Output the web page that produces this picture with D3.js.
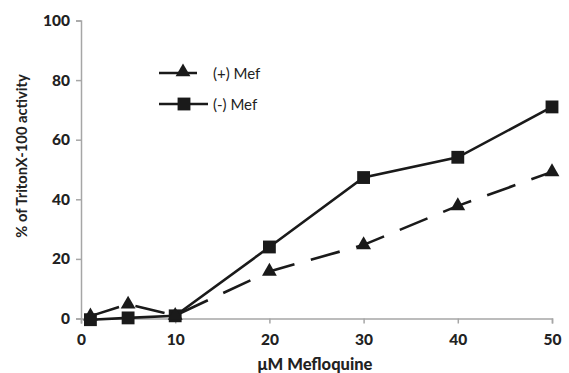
<!DOCTYPE html>
<html><head><meta charset="utf-8">
<script src="https://cdn.jsdelivr.net/npm/d3@7"></script>
<style>body{margin:0;background:#fff}svg{display:block}</style>
</head><body>
<svg id="c" width="569" height="373"></svg>
<script>
const xTicks = [0,10,20,30,40,50];
const yTicks = [0,20,40,60,80,100];
const plusX = [1,5,10,20,30,40,50];
const plusY = [0.8,4.8,1.0,15.8,24.7,37.8,49.2];
const minusX = [1,5,10,20,30,40,50];
const minusY = [-0.4,0.2,0.9,24.0,47.3,54.1,71.0];
const seriesNames = ["(+) Mef","(-) Mef"];

const svg = d3.select("#c");
const x = d3.scaleLinear().domain([0,50]).range([81,552]);
const y = d3.scaleLinear().domain([0,100]).range([318.5,20.5]);
const font = "Lato, 'Open Sans', sans-serif";
const axisCol = "#a6a6a6";

// Y axis
const ya = svg.append("g").attr("transform","translate(81,0)")
  .call(d3.axisLeft(y).tickValues(yTicks).tickSize(5).tickPadding(6));
ya.select(".domain").attr("stroke",axisCol).attr("stroke-width",1.5);
ya.selectAll(".tick line").attr("stroke",axisCol).attr("stroke-width",1.5);
ya.selectAll(".tick text").attr("font-family",font).attr("font-weight","900")
  .attr("font-size",15.5).attr("fill","#222");

// X axis
const xa = svg.append("g").attr("transform","translate(0,318.5)")
  .call(d3.axisBottom(x).tickValues(xTicks).tickSize(5).tickPadding(10));
xa.select(".domain").attr("stroke",axisCol).attr("stroke-width",1.5);
xa.selectAll(".tick line").attr("stroke",axisCol).attr("stroke-width",1.5);
xa.selectAll(".tick text").attr("font-family",font).attr("font-weight","900")
  .attr("font-size",15.5).attr("fill","#222");

// Titles
svg.append("text").attr("x",315).attr("y",370).attr("text-anchor","middle")
  .attr("font-family",font).attr("font-weight","900").attr("font-size",16.5).attr("fill","#222")
  .text("μM Mefloquine");
svg.append("text").attr("transform","translate(27,156) rotate(-90)").attr("text-anchor","middle")
  .attr("font-family",font).attr("font-weight","bold").attr("font-size",14.7).attr("fill","#222")
  .text("% of TritonX-100 activity");

const line = d3.line().x(d=>x(d[0])).y(d=>y(d[1]));
const plus = plusX.map((v,i)=>[v,plusY[i]]);
const minus = minusX.map((v,i)=>[v,minusY[i]]);

svg.append("path").datum(plus).attr("d",line).attr("fill","none").attr("stroke","#1a1a1a")
  .attr("stroke-width",2.6).attr("stroke-dasharray","30,17");
svg.append("path").datum(minus).attr("d",line).attr("fill","none").attr("stroke","#1a1a1a")
  .attr("stroke-width",2.6);

const tri = d3.symbol().type(d3.symbolTriangle).size(95);
const sq = d3.symbol().type(d3.symbolSquare).size(165);
svg.append("g").selectAll("path").data(minus).join("path")
  .attr("d",sq).attr("transform",d=>`translate(${x(d[0])},${y(d[1])})`).attr("fill","#1a1a1a");
svg.append("g").selectAll("path").data(plus).join("path")
  .attr("d",tri).attr("transform",d=>`translate(${x(d[0])},${y(d[1])})`).attr("fill","#1a1a1a");

// Legend
const lg = svg.append("g");
lg.append("line").attr("x1",159).attr("x2",197).attr("y1",73).attr("y2",73).attr("stroke","#1a1a1a").attr("stroke-width",2.6);
lg.append("path").attr("d",tri).attr("transform","translate(183,72)").attr("fill","#1a1a1a");
lg.append("line").attr("x1",159).attr("x2",208).attr("y1",104).attr("y2",104).attr("stroke","#1a1a1a").attr("stroke-width",2.6);
lg.append("path").attr("d",sq).attr("transform","translate(184,104)").attr("fill","#1a1a1a");
lg.append("text").attr("x",213).attr("y",78.5).attr("font-family",font).attr("font-size",15).attr("fill","#222").text(seriesNames[0]);
lg.append("text").attr("x",213).attr("y",109.5).attr("font-family",font).attr("font-size",15).attr("fill","#222").text(seriesNames[1]);
</script>
</body></html>
